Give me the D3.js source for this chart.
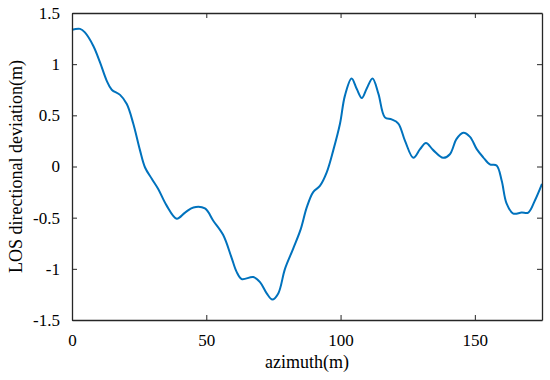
<!DOCTYPE html>
<html>
<head>
<meta charset="utf-8">
<title>LOS directional deviation</title>
<script src="https://cdn.jsdelivr.net/npm/d3@7"></script>
<style>
  body { margin: 0; background: #fff; }
  svg text { font-family: "Liberation Serif", "Times New Roman", serif; fill: #000; }
  .axis path, .axis line { stroke: #262626; }
</style>
</head>
<body>
<script>
// azimuth (m) and deviation (m)
var azimuth = [0, 3, 4.8, 7.9, 10.4, 12.9, 14.8, 17.9, 20.4, 22.8, 25.3, 27.2, 29.7, 32.1, 35.2,
  39.0, 42.1, 45.2, 49.5, 52.6, 56.3, 59.4, 61.3, 63.2, 67.5, 70, 72.5, 74.6, 76.8, 79.3,
  82.4, 85.2, 87.4, 89.8, 92.3, 94.8, 97.3, 99.8, 101.6, 104.1, 106, 107.9, 109.7, 111.9,
  114.1, 116.5, 119, 121.5, 124, 127.1, 129.6, 131.8, 134.5, 138.2, 140.7, 143.2, 145.7,
  148.2, 150.7, 153.1, 155.6, 158.1, 160, 161.8, 164.3, 167.4, 169.9, 172.4, 175];
var deviation = [1.336, 1.345, 1.31, 1.18, 1.02, 0.84, 0.75, 0.70, 0.61, 0.42, 0.16, -0.01, -0.12, -0.22, -0.38,
  -0.51, -0.45, -0.40, -0.41, -0.53, -0.67, -0.89, -1.03, -1.10, -1.08, -1.13, -1.24, -1.30, -1.24, -1.00,
  -0.80, -0.61, -0.40, -0.25, -0.19, -0.06, 0.16, 0.42, 0.69, 0.86, 0.76, 0.67, 0.76, 0.86,
  0.71, 0.48, 0.46, 0.42, 0.25, 0.085, 0.17, 0.23, 0.16, 0.085, 0.12, 0.27, 0.33,
  0.29, 0.17, 0.09, 0.02, 0.01, -0.14, -0.36, -0.46, -0.45, -0.45, -0.33, -0.17];
var xTicks = [0, 50, 100, 150];
var yTicks = [-1.5, -1, -0.5, 0, 0.5, 1, 1.5];

var width = 550, height = 380;
var margin = {top: 13, right: 8, bottom: 60, left: 72};
var innerW = width - margin.left - margin.right;
var innerH = height - margin.top - margin.bottom;

var svg = d3.select("body").append("svg")
    .attr("width", width)
    .attr("height", height);

var g = svg.append("g")
    .attr("transform", "translate(" + margin.left + "," + margin.top + ")");

var x = d3.scaleLinear().domain([0, 175]).range([0, innerW]);
var y = d3.scaleLinear().domain([-1.5, 1.5]).range([innerH, 0]);

var data = azimuth.map(function (a, i) { return [a, deviation[i]]; });

var line = d3.line()
    .x(function (d) { return x(d[0]); })
    .y(function (d) { return y(d[1]); })
    .curve(d3.curveCatmullRom.alpha(0.5));

g.append("path")
    .datum(data)
    .attr("d", line)
    .attr("fill", "none")
    .attr("stroke", "#0072BD")
    .attr("stroke-width", 2);

// axes: ticks point inward, like matlab
var fmt = function (d) { return String(d); };
var serif = function (s) {
    s.attr("font-family", null);
    s.selectAll("text").attr("font-size", 17);
};
g.append("g").attr("class", "axis")
    .attr("transform", "translate(0," + innerH + ")")
    .call(d3.axisBottom(x).tickValues(xTicks).tickFormat(fmt).tickSizeInner(-5).tickSizeOuter(0).tickPadding(14))
    .call(serif);
g.append("g").attr("class", "axis")
    .call(d3.axisTop(x).tickValues(xTicks).tickFormat("").tickSizeInner(-5).tickSizeOuter(0));
g.append("g").attr("class", "axis")
    .call(d3.axisLeft(y).tickValues(yTicks).tickFormat(fmt).tickSizeInner(-5).tickSizeOuter(0).tickPadding(12))
    .call(serif);
g.append("g").attr("class", "axis")
    .attr("transform", "translate(" + innerW + ",0)")
    .call(d3.axisRight(y).tickValues(yTicks).tickFormat("").tickSizeInner(-5).tickSizeOuter(0));

g.selectAll(".axis path").attr("stroke-width", 1.3);

g.append("text")
    .attr("x", innerW / 2)
    .attr("y", innerH + 48)
    .attr("text-anchor", "middle")
    .attr("font-size", 18)
    .text("azimuth(m)");

g.append("text")
    .attr("transform", "translate(" + (-50) + "," + (innerH / 2) + ") rotate(-90)")
    .attr("text-anchor", "middle")
    .attr("font-size", 18)
    .text("LOS directional deviation(m)");
</script>
</body>
</html>
